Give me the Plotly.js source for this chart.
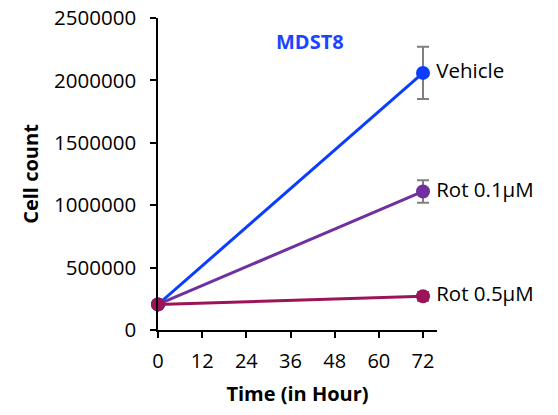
<!DOCTYPE html>
<html><head><meta charset="utf-8">
<script src="https://cdn.plot.ly/plotly-3.0.1.min.js"></script>
<style>body{margin:0;background:#fff}#chart{width:558px;height:415px}</style>
</head><body><div id="chart"></div>
<script>
const hours = [0, 72];
const seriesNames = ['Vehicle', 'Rot 0.1\u00b5M', 'Rot 0.5\u00b5M'];
const vehicle = [205000, 2060000];
const vehicleErr = [0, 210000];
const rot01 = [205000, 1110000];
const rot01Err = [0, 90000];
const rot05 = [205000, 270000];
const rot05Err = [0, 35000];
const colors = ['#0a3dff', '#7030a0', '#9b1458'];
const xTicks = [0, 12, 24, 36, 48, 60, 72];
const yTicks = [0, 500000, 1000000, 1500000, 2000000, 2500000];

const F = '"Open Sans", Lato, sans-serif';
const vals = [vehicle, rot01, rot05];
const errs = [vehicleErr, rot01Err, rot05Err];
const traces = vals.map((v, i) => ({
  x: hours, y: v, type: 'scatter', mode: 'lines+markers+text',
  name: seriesNames[i],
  text: ['', '\u2009' + seriesNames[i]], textposition: 'middle right',
  textfont: {family: F, size: 20.5, color: '#000'},
  line: {color: colors[i], width: 3},
  marker: {color: colors[i], size: 14},
  error_y: {type: 'data', array: errs[i], visible: true, color: '#7f7f7f', thickness: 2, width: 6},
  cliponaxis: false, showlegend: false
}));

const layout = {
  width: 558, height: 415,
  margin: {l: 158, r: 121, t: 18, b: 85},
  paper_bgcolor: '#fff', plot_bgcolor: '#fff',
  font: {family: F, color: '#000'},
  xaxis: {range: [0, 75.8], tickvals: xTicks, ticktext: xTicks.map(String),
    showline: true, linecolor: '#000', linewidth: 1.5, ticks: 'outside', ticklen: 6, tickwidth: 1.5, tickcolor: '#000',
    showgrid: false, zeroline: false, tickfont: {family: F, size: 20}, ticklabelstandoff: 6,
    title: {text: '<b>Time (in Hour)</b>', font: {family: F, size: 20}, standoff: 14}},
  yaxis: {range: [0, 2500000], tickvals: yTicks, ticktext: yTicks.map(String),
    showline: true, linecolor: '#000', linewidth: 1.5, ticks: 'outside', ticklen: 6, tickwidth: 1.5, tickcolor: '#000',
    showgrid: false, zeroline: false, tickfont: {family: F, size: 20.5}, ticklabelstandoff: 10,
    title: {text: '<b>Cell count</b>', font: {family: F, size: 20}, standoff: 10}},
  annotations: [{text: '<b>MDST8</b>', xref: 'paper', yref: 'paper', x: 0.545, y: 0.975,
    showarrow: false, font: {family: F, size: 20, color: '#1a44ff'}}]
};
Plotly.newPlot('chart', traces, layout, {displayModeBar: false});
</script></body></html>
